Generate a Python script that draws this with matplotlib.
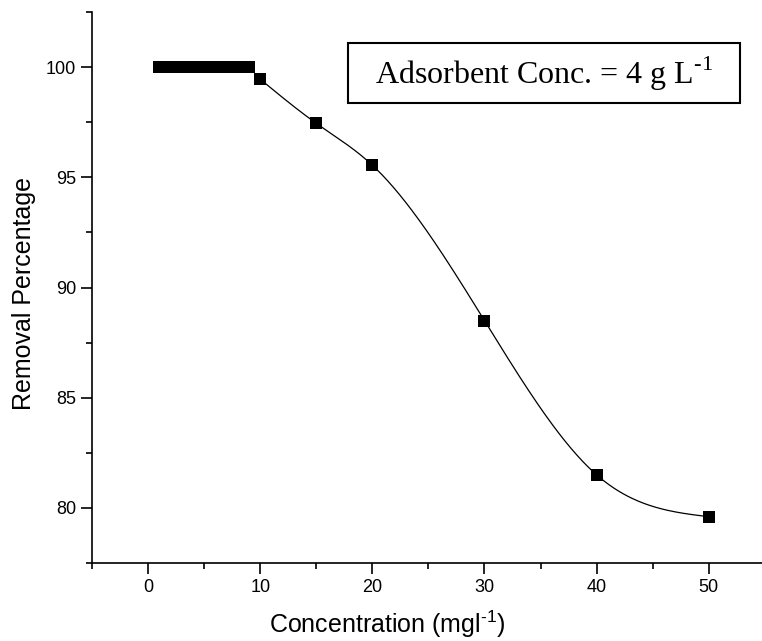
#!/usr/bin/env python
# -*- encoding: utf-8 -*-

'''removal percentage vs initial concentration
'''

import numpy as np
import matplotlib
matplotlib.use('Agg')
import matplotlib.pyplot as plt
from matplotlib.patches import Rectangle
from matplotlib.ticker import MultipleLocator

conc = [1, 2, 3, 4, 5, 6, 7, 8, 9, 10, 15, 20, 30, 40, 50]
removal = [100, 100, 100, 100, 100, 100, 100, 100, 100,
           99.45, 97.45, 95.55, 88.5, 81.5, 79.6]


def natural_spline(x, y, n=300):
    # plain natural cubic spline through the points
    x = np.asarray(x, float)
    y = np.asarray(y, float)
    k = len(x)
    h = np.diff(x)
    a = np.zeros((k, k))
    b = np.zeros(k)
    a[0, 0] = a[-1, -1] = 1
    for i in range(1, k - 1):
        a[i, i - 1] = h[i - 1]
        a[i, i] = 2 * (h[i - 1] + h[i])
        a[i, i + 1] = h[i]
        b[i] = 3 * ((y[i + 1] - y[i]) / h[i] - (y[i] - y[i - 1]) / h[i - 1])
    c = np.linalg.solve(a, b)
    xs = np.linspace(x[0], x[-1], n)
    ys = np.empty_like(xs)
    for j, xv in enumerate(xs):
        i = min(np.searchsorted(x, xv, side='right') - 1, k - 2)
        d = xv - x[i]
        bb = (y[i + 1] - y[i]) / h[i] - h[i] * (2 * c[i] + c[i + 1]) / 3
        dd = (c[i + 1] - c[i]) / (3 * h[i])
        ys[j] = y[i] + bb * d + c[i] * d ** 2 + dd * d ** 3
    return xs, ys


def plot(pic_name):
    plt.rcParams['font.family'] = ['Liberation Sans', 'DejaVu Sans']
    W, H = 762, 641
    fig = plt.figure(figsize=(W / 100, H / 100), dpi=100)
    ax = fig.add_axes([92 / W, 1 - 563 / H, 1 - 92 / W, (563 - 12) / H])

    xs, ys = natural_spline(conc[9:], removal[9:])
    ax.plot(xs, ys, color='black', lw=0.9)
    ax.plot(conc, removal, 's', color='black', ms=8, mew=0)

    ax.set_xlim(-5, 54.75)
    ax.set_ylim(77.5, 102.5)
    ax.xaxis.set_minor_locator(MultipleLocator(5))
    ax.yaxis.set_major_locator(MultipleLocator(5))
    ax.yaxis.set_minor_locator(MultipleLocator(2.5))
    ax.set_xticks([0, 10, 20, 30, 40, 50])
    ax.tick_params(which='major', direction='out', length=8, width=1.2, labelsize=13)
    ax.tick_params(which='minor', direction='out', length=4, width=1.2)
    for side in ['top', 'right']:
        ax.spines[side].set_visible(False)
    for side in ['left', 'bottom']:
        ax.spines[side].set_linewidth(1.2)

    # superscript "-1" written with a plain hyphen (U+2010) in the text font
    ax.set_xlabel('Concentration (mgl$^{\\mathregular{\u20101}}$)', fontsize=18)
    ax.xaxis.set_label_coords((387 - 92) / (W - 92), (563 - 609) / 551)
    ax.set_ylabel('Removal Percentage', fontsize=18)
    ax.yaxis.set_label_coords((36 - 92) / (W - 92), (563 - 293) / 551)

    fig.patches.append(Rectangle((348 / W, 1 - 103 / H), 392 / W, 60 / H,
                                 transform=fig.transFigure, fill=False,
                                 ec='black', lw=1.5))
    fig.text(544 / W, 1 - 74 / H, 'Adsorbent Conc. = 4 g L$^{\\mathregular{\u20101}}$',
             family='Liberation Serif', fontsize=23, ha='center', va='center')

    fig.savefig(pic_name, dpi=100)


def main():
    plot('out.png')


if __name__ == '__main__':
    main()
